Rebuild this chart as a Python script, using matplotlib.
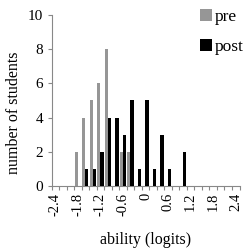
import numpy as np
import matplotlib
matplotlib.use("Agg")
import matplotlib.pyplot as plt

# ability bins (logits), 0.2 wide
bins = [round(-2.4 + 0.2 * i, 1) for i in range(25)]
pre_counts = {-1.8: 2, -1.6: 4, -1.4: 5, -1.2: 6, -1.0: 8, -0.6: 2, -0.4: 2}
post_counts = {-1.6: 1, -1.4: 1, -1.2: 2, -1.0: 4, -0.8: 4, -0.6: 3, -0.4: 5,
               -0.2: 1, 0.0: 5, 0.2: 1, 0.4: 3, 0.6: 1, 1.0: 2}
pre = [pre_counts.get(b, 0) for b in bins]
post = [post_counts.get(b, 0) for b in bins]
tick_labels = ["-2.4", "-1.8", "-1.2", "-0.6", "0", "0.6", "1.2", "1.8", "2.4"]

plt.rcParams['font.family'] = ['Liberation Serif', 'DejaVu Serif']

fig = plt.figure(figsize=(2.5, 2.5), dpi=100)
ax = fig.add_axes([0.206, 0.256, 0.752, 0.684])

x = np.arange(len(bins))
ax.bar(x - 0.2, pre, width=0.42, color='#969696', label='pre', zorder=2)
ax.bar(x + 0.2, post, width=0.44, color='black', label='post', zorder=3)

ax.set_xlim(-0.5, len(bins) - 0.5)
ax.set_ylim(0, 10)
ax.set_yticks([0, 2, 4, 6, 8, 10])

# labels every 3rd bin, tick marks at bin edges
ax.set_xticks(x[::3])
ax.set_xticklabels(tick_labels, rotation=90)
ax.set_xticks(np.arange(len(bins) + 1) - 0.5, minor=True)
ax.tick_params(axis='x', which='major', length=0, pad=5, labelsize=10.5)
ax.tick_params(axis='x', which='minor', length=3, color='#888888', width=0.8)
ax.tick_params(axis='y', length=3, color='#888888', width=0.8, labelsize=11, pad=3)

for side in ['top', 'right']:
    ax.spines[side].set_visible(False)
for side in ['left', 'bottom']:
    ax.spines[side].set_color('#888888')
    ax.spines[side].set_linewidth(0.8)

ax.set_ylabel('number of students', fontsize=11.5)
ax.yaxis.set_label_coords(-0.155, 0.43)
ax.set_xlabel('ability (logits)', fontsize=11.5)
ax.xaxis.set_label_coords(0.5, -0.27)

ax.legend(loc='upper right', bbox_to_anchor=(1.06, 1.075), frameon=False,
          fontsize=12.5, handlelength=0.7, handleheight=0.7, handletextpad=0.15,
          labelspacing=0.8, borderaxespad=0)

fig.savefig('out.png', dpi=100)
